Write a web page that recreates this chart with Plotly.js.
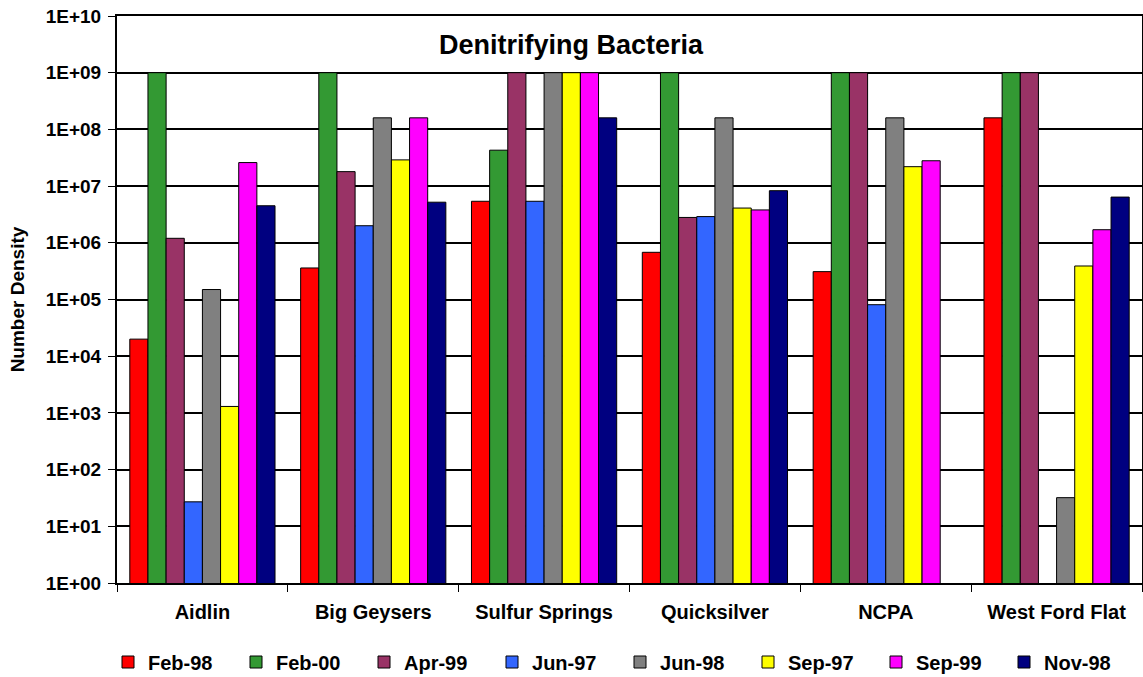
<!DOCTYPE html>
<html>
<head>
<meta charset="utf-8">
<script src="https://cdn.plot.ly/plotly-3.0.1.min.js"></script>
<style>html,body{margin:0;padding:0;background:#fff;}#chart{width:1143px;height:677px;}</style>
</head>
<body>
<div id="chart"></div>
<script>
const sites = ["Aidlin", "Big Geysers", "Sulfur Springs", "Quicksilver", "NCPA", "West Ford Flat"];
const seriesNames = ["Feb-98", "Feb-00", "Apr-99", "Jun-97", "Jun-98", "Sep-97", "Sep-99", "Nov-98"];
const seriesColors = ["#FF0000", "#339933", "#993366", "#3366FF", "#808080", "#FFFF00", "#FF00FF", "#000080"];

const feb98 = [2.0e4, 3.6e5, 5.4e6, 6.8e5, 3.1e5, 1.6e8];
const feb00 = [1e9, 1e9, 4.3e7, 1e9, 1e9, 1e9];
const apr99 = [1.2e6, 1.8e7, 1e9, 2.8e6, 1e9, 1e9];
const jun97 = [27, 2.0e6, 5.4e6, 2.9e6, 8.1e4, null];
const jun98 = [1.5e5, 1.6e8, 1e9, 1.6e8, 1.6e8, 32];
const sep97 = [1.3e3, 2.9e7, 1e9, 4.1e6, 2.2e7, 3.9e5];
const sep99 = [2.6e7, 1.6e8, 1e9, 3.8e6, 2.8e7, 1.7e6];
const nov98 = [4.5e6, 5.2e6, 1.6e8, 8.3e6, null, 6.4e6];

const seriesValues = [feb98, feb00, apr99, jun97, jun98, sep97, sep99, nov98];

const yTickVals = [1, 10, 100, 1e3, 1e4, 1e5, 1e6, 1e7, 1e8, 1e9, 1e10];
const yTickText = ["1E+00", "1E+01", "1E+02", "1E+03", "1E+04", "1E+05", "1E+06", "1E+07", "1E+08", "1E+09", "1E+10"];

const FONT = "Arial, 'Liberation Sans', sans-serif";

const traces = seriesNames.map((name, i) => ({
  type: "bar",
  name: "<b>" + name + "</b>",
  x: sites,
  y: seriesValues[i],
  marker: { color: seriesColors[i], line: { color: "#000", width: 1 } },
  hoverinfo: "x+y+name"
}));

const layout = {
  width: 1143,
  height: 677,
  margin: { l: 117, r: 1, t: 16, b: 94 },
  paper_bgcolor: "#fff",
  plot_bgcolor: "#fff",
  font: { family: FONT, color: "#000", size: 18 },
  barmode: "group",
  bargap: 0.15,
  bargroupgap: 0,
  title: {
    text: "<b>Denitrifying Bacteria</b>",
    font: { family: FONT, size: 27, color: "#000" },
    xref: "paper", x: 0.443, xanchor: "center",
    yref: "container", y: 1 - 45 / 677, yanchor: "middle"
  },
  xaxis: {
    type: "category",
    showline: true, linecolor: "#000", linewidth: 2, mirror: true,
    ticks: "outside", tickson: "boundaries", ticklen: 7, tickcolor: "#000", tickwidth: 1,
    ticklabelstandoff: 10,
    tickfont: { family: FONT, size: 20, color: "#000" },
    tickprefix: "<b>", ticksuffix: "</b>",
    showgrid: false, zeroline: false
  },
  yaxis: {
    type: "log",
    range: [0, 10],
    tickvals: yTickVals,
    ticktext: yTickText.map(t => "<b>" + t + "</b>"),
    tickfont: { family: FONT, size: 19, color: "#000" },
    ticks: "outside", ticklen: 7, tickcolor: "#000", tickwidth: 1,
    ticklabelstandoff: 3,
    showline: true, linecolor: "#000", linewidth: 2, mirror: true,
    showgrid: true, gridcolor: "#000", gridwidth: 2,
    zeroline: false,
    title: { text: "<b>Number Density</b>", font: { family: FONT, size: 19, color: "#000" }, standoff: 16 }
  },
  showlegend: true,
  legend: {
    orientation: "h",
    xref: "container", x: 0.0945, xanchor: "left",
    yref: "container", y: 1 - 662 / 677, yanchor: "middle",
    font: { family: FONT, size: 20, color: "#000" },
    entrywidth: 83, entrywidthmode: "pixels",
    itemwidth: 30,
    traceorder: "normal"
  }
};

Plotly.newPlot("chart", traces, layout, { displayModeBar: false, staticPlot: true });
</script>
</body>
</html>
